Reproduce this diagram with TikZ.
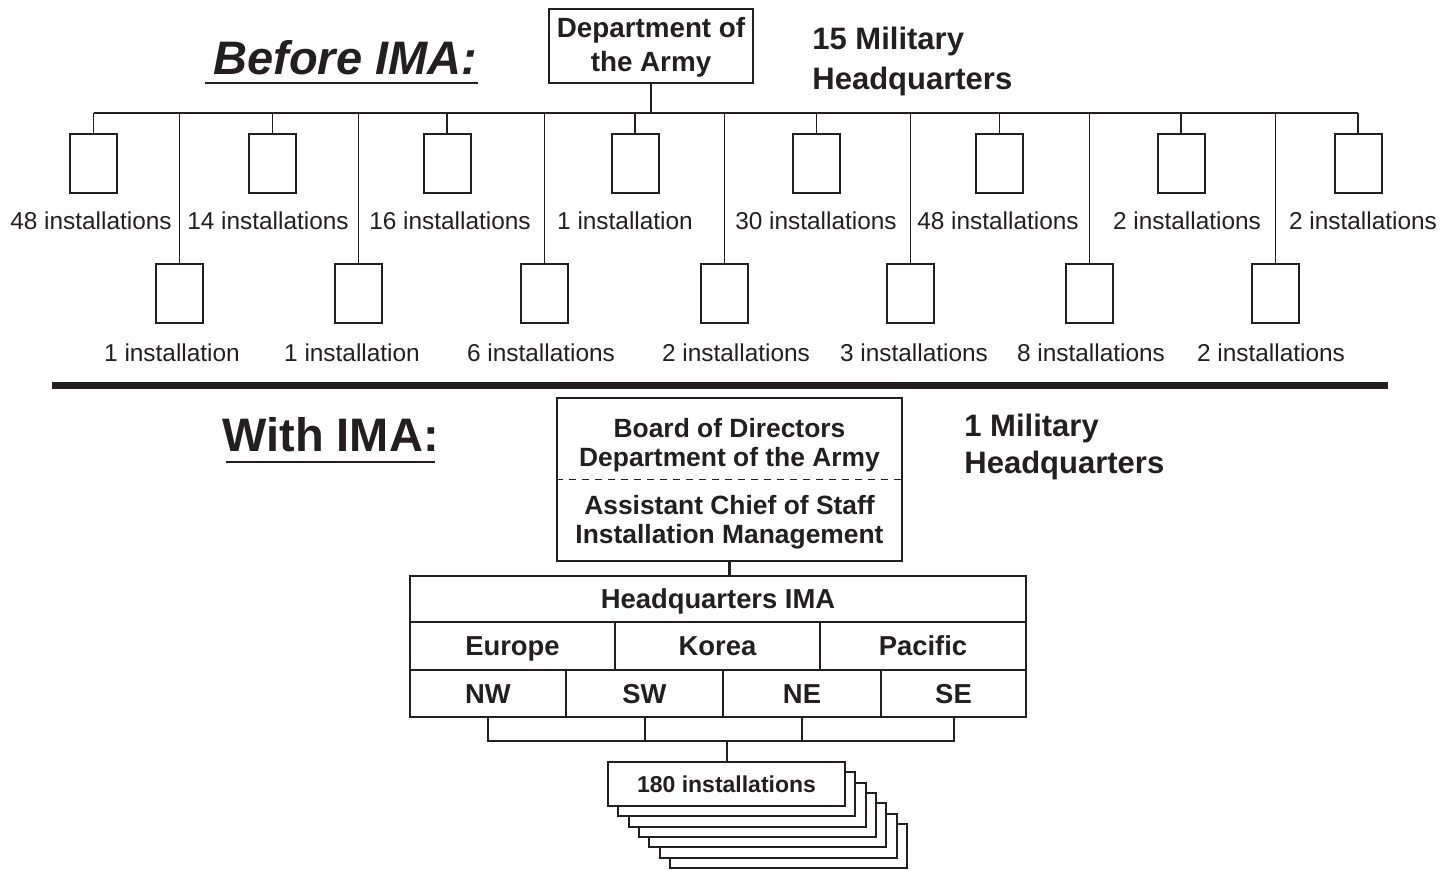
\documentclass[tikz,border=0pt]{standalone}
\usepackage{fontspec}
\setmainfont{Liberation Sans}
\usetikzlibrary{positioning, calc}
\definecolor{ink}{RGB}{35,31,32}

\begin{document}
\begin{tikzpicture}[x=0.5pt, y=-0.5pt, color=ink,
    unit/.style={rectangle, draw, line width=1pt, minimum width=23.5pt,
                 minimum height=29.5pt, inner sep=0pt},
    tally/.style={anchor=base, inner sep=0pt, font=\fontsize{12.2}{14}\selectfont},
    link/.style={line width=0.9pt},
    box/.style={rectangle, draw, line width=1pt, align=center, inner sep=0pt,
                font=\fontsize{13.9}{17}\selectfont\bfseries},
    title/.style={anchor=north, inner sep=0pt, align=center,
                  font=\fontsize{13.2}{14.5}\selectfont\bfseries},
    cell/.style={rectangle, draw, line width=1.2pt, inner sep=0pt, text height=9.8pt,
                 text depth=0pt, font=\fontsize{13.7}{16}\selectfont\bfseries},
    sheet/.style={rectangle, draw, fill=white, line width=1pt, minimum width=118.5pt,
                  minimum height=22pt, inner sep=0pt},
    note/.style={anchor=north west, inner sep=0pt, align=left,
                 font=\fontsize{15.5}{20}\selectfont\bfseries}]
    \useasboundingbox (0,0) rectangle (1455,870);

    % before IMA
    \node[anchor=base west, inner sep=0pt, font=\fontsize{23.5}{28}\selectfont\bfseries\itshape]
        (before) at (213,75) {Before IMA:};
    \draw[line width=0.8pt] ([shift={(-4pt,-4pt)}]before.base west) -- ([yshift=-4pt]before.base east);
    \node[box, minimum width=102pt, minimum height=37pt, text depth=2pt] (dept) at (651,46) {Department of\\the Army};
    \node[note] (hqs15) at (812,27) {15 Military\\Headquarters};

    \coordinate (busL) at (93.5,113);
    \coordinate (busR) at (1358,113);
    \draw[link] (busL) -- (busR);
    \draw[link] (dept.south) -- (dept.south |- busL);

    \foreach \x/\lx/\txt [count=\i] in {93.5/91/48 installations, 272.5/268/14 installations,
        447/450/16 installations, 635/625/1 installation, 816.5/816/30 installations,
        999.5/998/48 installations, 1181/1187/2 installations, 1358/1363/2 installations} {
        \node[unit] (u\i) at (\x,163.5) {};
        \node[tally] (ul\i) at (\lx,230) {\txt};
        \draw[link] (u\i.north) -- (u\i.north |- busL);
    }
    \foreach \x/\lx/\txt [count=\i] in {179.5/172/1 installation, 358.5/352/1 installation,
        544.5/541/6 installations, 724.5/736/2 installations, 910.5/914/3 installations,
        1089.5/1091/8 installations, 1275.5/1271/2 installations} {
        \node[unit] (l\i) at (\x,293.5) {};
        \node[tally] (ll\i) at (\lx,362) {\txt};
        \draw[link] (l\i.north) -- (l\i.north |- busL);
    }

    \draw[line width=3.5pt] (52,385.5) -- (1388,385.5);

    % with IMA
    \node[anchor=base west, inner sep=0pt, font=\fontsize{23.5}{28}\selectfont\bfseries]
        (with) at (222,452) {With IMA:};
    \draw[line width=0.8pt] ([shift={(2pt,-5pt)}]with.base west) -- ([shift={(-2pt,-5pt)}]with.base east);
    \node[note, font=\fontsize{15.5}{18.5}\selectfont\bfseries] (hqs1) at (964,414) {1 Military\\Headquarters};

    \node[draw, line width=1pt, minimum width=172.5pt, minimum height=81.5pt] (board) at (729.5,479.5) {};
    \draw[line width=0.8pt, dash pattern=on 3.5pt off 3pt] (board.west) -- (board.east);
    \node[title] (bod) at (729.5,418) {Board of Directors\\Department of the Army};
    \node[title] (acsim) at (729.5,495) {Assistant Chief of Staff\\Installation Management};

    \node[cell, minimum width=308pt, minimum height=23pt] (hq) at (718,599) {Headquarters IMA};
    \node[cell, minimum width=102.5pt, minimum height=24pt] (eur) at (512.5,646) {Europe};
    \node[cell, minimum width=102.5pt, minimum height=24pt] (kor) at (717.5,646) {Korea};
    \node[cell, minimum width=103pt, minimum height=24pt] (pac) at (923,646) {Pacific};
    \node[cell, minimum width=78pt, minimum height=23.5pt] (nw) at (488,693.5) {NW};
    \node[cell, minimum width=78.5pt, minimum height=23.5pt] (sw) at (644.5,693.5) {SW};
    \node[cell, minimum width=79pt, minimum height=23.5pt] (ne) at (802,693.5) {NE};
    \node[cell, minimum width=72.5pt, minimum height=23.5pt] (se) at (953.5,693.5) {SE};
    \draw[line width=1.2pt] (board.south) -- (board.south |- hq.north);

    % installations stack
    \foreach \k in {6,5,...,1}
        \node[sheet] (s\k) at (726.5+10.3*\k, 784+10.3*\k) {};
    \node[sheet, font=\fontsize{11.5}{14}\selectfont\bfseries] (front) at (726.5,784) {180 installations};

    \coordinate (brk) at (722,741);
    \draw[line width=1pt] (nw.south) -- (nw.south |- brk) -- (se.south |- brk) -- (se.south);
    \draw[line width=1pt] (sw.south) -- (sw.south |- brk);
    \draw[line width=1pt] (ne.south) -- (ne.south |- brk);
    \draw[line width=1pt] (front.north |- brk) -- (front.north);
\end{tikzpicture}
\end{document}
